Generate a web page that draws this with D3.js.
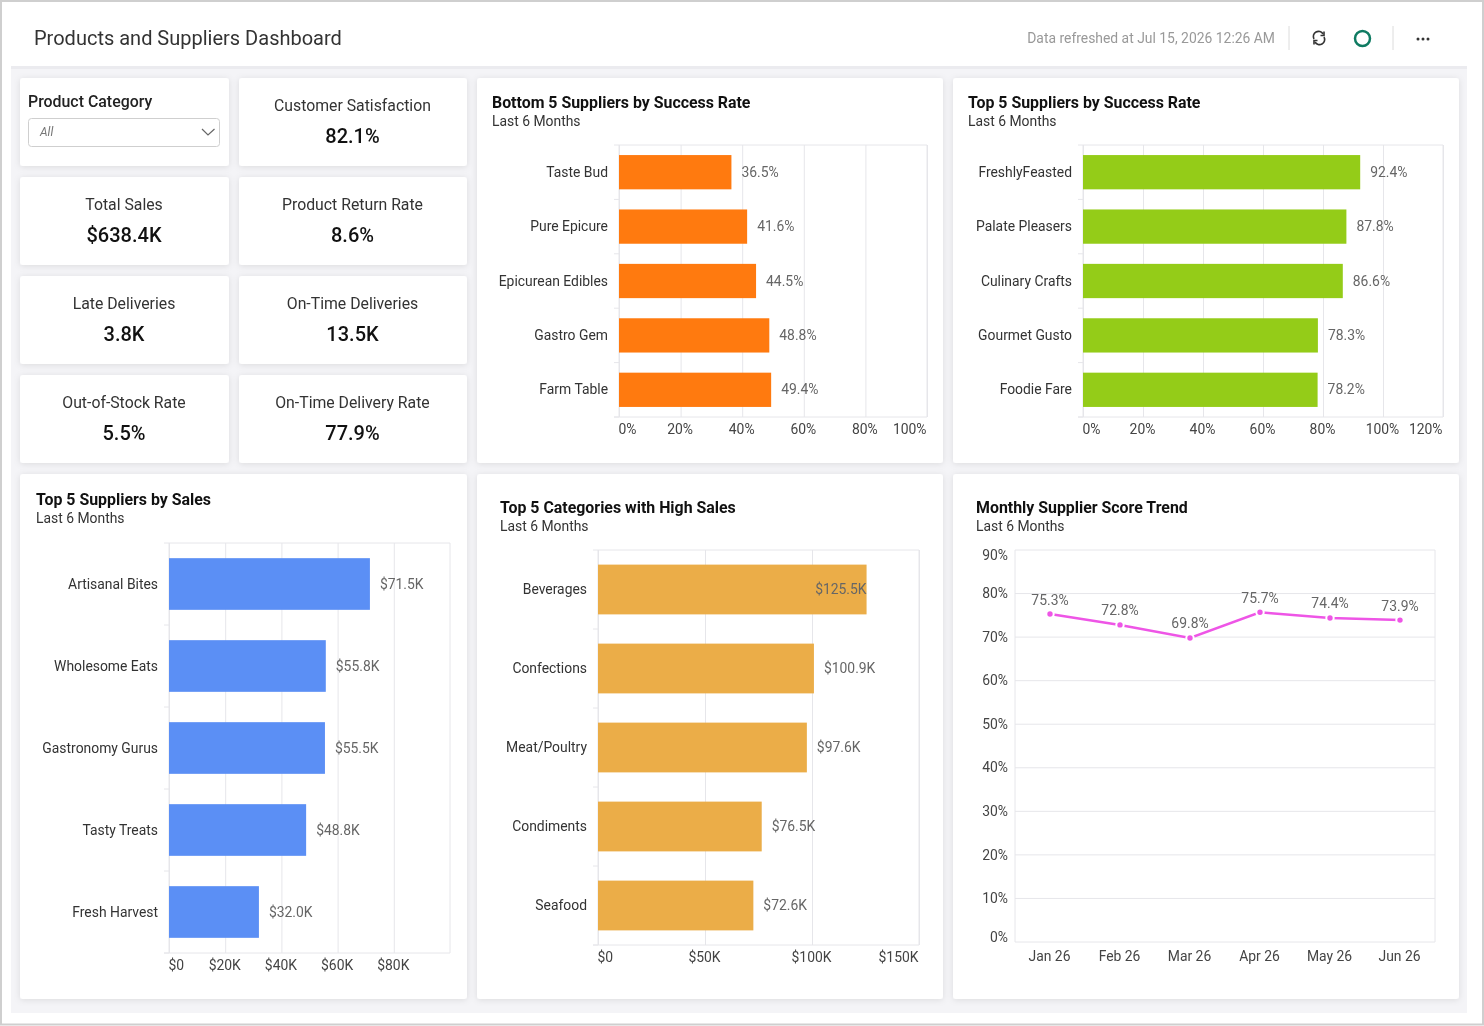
<!DOCTYPE html>
<html>
<head>
<meta charset="utf-8">
<title>Products and Suppliers Dashboard</title>
<script src="https://cdn.jsdelivr.net/npm/d3@7"></script>
<style>
  html, body { margin: 0; padding: 0; background: #fff; overflow: hidden; }
  svg { display: block; font-family: Roboto, "Noto Sans", sans-serif; filter: blur(0.35px); }
  .domain { display: none; }
</style>
</head>
<body>
<div id="chart"></div>
<script>
// KPI tiles
const kpiTitles = ["Customer Satisfaction", "Total Sales", "Product Return Rate", "Late Deliveries",
  "On-Time Deliveries", "Out-of-Stock Rate", "On-Time Delivery Rate"];
const kpiValues = ["82.1%", "$638.4K", "8.6%", "3.8K", "13.5K", "5.5%", "77.9%"];

// Bar charts
const bottomSuppliers = ["Taste Bud", "Pure Epicure", "Epicurean Edibles", "Gastro Gem", "Farm Table"];
const bottomRates = [36.5, 41.6, 44.5, 48.8, 49.4];
const topSuppliers = ["FreshlyFeasted", "Palate Pleasers", "Culinary Crafts", "Gourmet Gusto", "Foodie Fare"];
const topRates = [92.4, 87.8, 86.6, 78.3, 78.2];
const salesSuppliers = ["Artisanal Bites", "Wholesome Eats", "Gastronomy Gurus", "Tasty Treats", "Fresh Harvest"];
const salesValues = [71.5, 55.8, 55.5, 48.8, 32.0];
const categories = ["Beverages", "Confections", "Meat/Poultry", "Condiments", "Seafood"];
const categoryValues = [125.5, 100.9, 97.6, 76.5, 72.6];

// Line chart
const months = ["Jan 26", "Feb 26", "Mar 26", "Apr 26", "May 26", "Jun 26"];
const scores = [75.3, 72.8, 69.8, 75.7, 74.4, 73.9];

const GRID = "#e6e6ea";
const pct = d => d + "%";
const money = d => "$" + d.toFixed(1) + "K";
const moneyTick = d => d === 0 ? "$0" : "$" + d + "K";

const svg = d3.select("#chart").append("svg").attr("width", 1484).attr("height", 1026);

const shadow = svg.append("defs").append("filter").attr("id", "card-shadow")
  .attr("x", "-5%").attr("y", "-5%").attr("width", "110%").attr("height", "115%");
shadow.append("feDropShadow").attr("dx", 0).attr("dy", 1).attr("stdDeviation", 3)
  .attr("flood-color", "#000").attr("flood-opacity", 0.1);

// page frame and header
svg.append("rect").attr("width", 1484).attr("height", 1026).attr("fill", "#fff");
svg.append("rect").attr("x", 11).attr("y", 66).attr("width", 1456).attr("height", 947).attr("fill", "#f4f4f7");
svg.append("rect").attr("x", 11).attr("y", 66).attr("width", 1456).attr("height", 3).attr("fill", "#ebebef");
svg.append("rect").attr("x", 1).attr("y", 1).attr("width", 1482).attr("height", 1023.5)
  .attr("fill", "none").attr("stroke", "#cfcfcf").attr("stroke-width", 2);

svg.append("text").attr("x", 34).attr("y", 45).attr("font-size", 20).attr("fill", "#333")
  .text("Products and Suppliers Dashboard");
svg.append("text").attr("x", 1275).attr("y", 43).attr("text-anchor", "end").attr("font-size", 13.9).attr("fill", "#999")
  .text("Data refreshed at Jul 15, 2026 12:26 AM");

svg.selectAll(".sep").data([1289, 1393]).join("line").attr("class", "sep")
  .attr("x1", d => d).attr("x2", d => d).attr("y1", 26).attr("y2", 50).attr("stroke", "#dcdcdc");

// refresh icon
const refresh = svg.append("g").attr("transform", "translate(1319,38)")
  .attr("fill", "none").attr("stroke", "#333").attr("stroke-width", 1.6);
refresh.append("path").attr("d", "M-5,1 A5,5 0 0 1 4,-4");
refresh.append("path").attr("d", "M5,-1 A5,5 0 0 1 -4,4");
refresh.append("path").attr("d", "M5,-6.5 L5,-2.5 L1.5,-2.5");
refresh.append("path").attr("d", "M-5,6.5 L-5,2.5 L-1.5,2.5");

svg.append("circle").attr("cx", 1362.5).attr("cy", 38.5).attr("r", 7.5)
  .attr("fill", "none").attr("stroke", "#0f7b62").attr("stroke-width", 2.5);
svg.selectAll(".dot").data([-5, 0, 5]).join("circle").attr("class", "dot")
  .attr("cx", d => 1423 + d).attr("cy", 39).attr("r", 1.5).attr("fill", "#333");

function card(x, y, w, h) {
  svg.append("rect").attr("x", x).attr("y", y).attr("width", w).attr("height", h)
    .attr("rx", 3).attr("fill", "#fff").attr("filter", "url(#card-shadow)");
}

// filter tile
card(20, 78, 209, 88);
svg.append("text").attr("x", 28).attr("y", 107).attr("font-size", 15.9).attr("font-weight", 500).attr("fill", "#222")
  .text("Product Category");
svg.append("rect").attr("x", 28.5).attr("y", 118.5).attr("width", 191).attr("height", 28).attr("rx", 3)
  .attr("fill", "#fff").attr("stroke", "#cfcfcf");
svg.append("text").attr("x", 40).attr("y", 136).attr("font-size", 12).attr("font-style", "italic").attr("fill", "#777")
  .text("All");
svg.append("path").attr("d", "M202,129 L208,135 L214.5,129").attr("fill", "none").attr("stroke", "#666").attr("stroke-width", 1.2);

// KPI tiles
const kpiCols = [{ x: 20, w: 209 }, { x: 239, w: 228 }];
const kpiRows = [78, 177, 276, 375];
const kpiSlots = [[1, 0], [0, 1], [1, 1], [0, 2], [1, 2], [0, 3], [1, 3]];
kpiTitles.forEach((title, i) => {
  const col = kpiCols[kpiSlots[i][0]], top = kpiRows[kpiSlots[i][1]];
  card(col.x, top, col.w, 88);
  svg.append("text").attr("x", col.x + col.w / 2 - 0.5).attr("y", top + 32.5).attr("text-anchor", "middle")
    .attr("font-size", 15.8).attr("fill", "#333").text(title);
  svg.append("text").attr("x", col.x + col.w / 2 - 0.5).attr("y", top + 64.5).attr("text-anchor", "middle")
    .attr("font-size", 20).attr("font-weight", 500).attr("fill", "#111").text(kpiValues[i]);
});

function heading(x, y, title) {
  svg.append("text").attr("x", x).attr("y", y + 1).attr("font-size", 15.9).attr("font-weight", 700).attr("fill", "#111").text(title);
  svg.append("text").attr("x", x).attr("y", y + 19).attr("font-size", 13.9).attr("fill", "#333").text("Last 6 Months");
}

function barChart(o) {
  const x = d3.scaleLinear().domain([0, o.max]).range([o.left, o.right]);
  const y = d3.scaleBand().domain(o.names).range([o.top, o.bottom]).paddingInner(o.gap).paddingOuter(o.gap / 2);
  const g = svg.append("g");

  // vertical grid and x labels
  const xAxis = g.append("g").attr("transform", `translate(0,${o.bottom})`)
    .call(d3.axisBottom(x).tickValues(o.ticks).tickFormat(o.tickFormat).tickSize(-(o.bottom - o.top)).tickPadding(6));
  xAxis.selectAll("line").attr("stroke", GRID);
  xAxis.selectAll("text").attr("font-family", "Roboto").attr("font-size", 13.9).attr("fill", "#444")
    .attr("y", 17).attr("dy", 0)
    .attr("text-anchor", (d, i) => i === 0 ? "start" : (d === o.max ? "end" : "middle"))
    .attr("x", (d, i) => i === 0 ? -1 : -1);

  // frame of the plot
  g.append("path").attr("fill", "none").attr("stroke", GRID)
    .attr("d", `M${o.left},${o.top} H${o.right} V${o.bottom} H${o.left - 5}`);

  // ticks between the bands
  const step = y.step();
  g.selectAll(".band-tick").data(d3.range(o.names.length + 1)).join("line").attr("class", "band-tick")
    .attr("x1", o.left - 5).attr("x2", o.left)
    .attr("y1", i => o.top + i * step).attr("y2", i => o.top + i * step).attr("stroke", GRID);
  g.append("line").attr("x1", o.left).attr("x2", o.left).attr("y1", o.top).attr("y2", o.bottom).attr("stroke", GRID);

  g.selectAll(".bar").data(o.values).join("rect").attr("class", "bar")
    .attr("x", x(0)).attr("y", (d, i) => y(o.names[i]))
    .attr("width", d => x(d) - x(0)).attr("height", y.bandwidth()).attr("fill", o.color);

  g.selectAll(".name").data(o.names).join("text").attr("class", "name")
    .attr("x", o.left - 11).attr("y", d => y(d) + y.bandwidth() / 2 + 4.5)
    .attr("text-anchor", "end").attr("font-size", 13.9).attr("fill", "#333").text(d => d);

  g.selectAll(".value").data(o.values).join("text").attr("class", "value")
    .attr("x", d => o.insideFrom && d >= o.insideFrom ? x(d) : x(d) + 10)
    .attr("y", (d, i) => y(o.names[i]) + y.bandwidth() / 2 + 4.5)
    .attr("text-anchor", d => o.insideFrom && d >= o.insideFrom ? "end" : "start")
    .attr("font-size", 13.9).attr("fill", "#666").text(o.format);
}

// Bottom 5 suppliers
card(477, 78, 466, 385);
heading(492, 107, "Bottom 5 Suppliers by Success Rate");
barChart({ names: bottomSuppliers, values: bottomRates, color: "#ff7a0f", max: 100, ticks: [0, 20, 40, 60, 80, 100],
  left: 619, right: 927, top: 145, bottom: 417, gap: 0.37, format: d => d.toFixed(1) + "%", tickFormat: pct });

// Top 5 suppliers
card(953, 78, 506, 385);
heading(968, 107, "Top 5 Suppliers by Success Rate");
barChart({ names: topSuppliers, values: topRates, color: "#94cc18", max: 120, ticks: [0, 20, 40, 60, 80, 100, 120],
  left: 1083, right: 1443, top: 145, bottom: 417, gap: 0.37, format: d => d.toFixed(1) + "%", tickFormat: pct });

// Top 5 by sales
card(20, 474, 447, 525);
heading(36, 504, "Top 5 Suppliers by Sales");
barChart({ names: salesSuppliers, values: salesValues, color: "#5b8ff5", max: 100, ticks: [0, 20, 40, 60, 80],
  left: 169, right: 450, top: 543, bottom: 953, gap: 0.37, format: money, tickFormat: moneyTick });

// Top 5 categories
card(477, 474, 466, 525);
heading(500, 512, "Top 5 Categories with High Sales");
barChart({ names: categories, values: categoryValues, color: "#ebad48", max: 150, ticks: [0, 50, 100, 150],
  left: 598, right: 919, top: 550, bottom: 945, gap: 0.37, format: money, tickFormat: moneyTick, insideFrom: 120 });

// Monthly score trend
card(953, 474, 506, 525);
heading(976, 512, "Monthly Supplier Score Trend");

const lineX = d3.scalePoint().domain(months).range([1015, 1435]).padding(0.5);
const lineY = d3.scaleLinear().domain([0, 90]).range([942, 550]);
const trend = svg.append("g");

const yAxis = trend.append("g").attr("transform", "translate(1015,0)")
  .call(d3.axisLeft(lineY).tickValues(d3.range(0, 100, 10)).tickFormat(pct).tickSize(0).tickPadding(7));
yAxis.selectAll("text").attr("font-family", "Roboto").attr("font-size", 13.9).attr("fill", "#444")
  .attr("dy", d => d === 90 ? "0.7em" : d === 0 ? "-0.05em" : "0.3em");

trend.selectAll(".hgrid").data(d3.range(0, 100, 10)).join("line").attr("class", "hgrid")
  .attr("x1", 1015).attr("x2", 1435).attr("y1", d => lineY(d)).attr("y2", d => lineY(d)).attr("stroke", GRID);
trend.selectAll(".vgrid").data([1015, 1435]).join("line").attr("class", "vgrid")
  .attr("x1", d => d).attr("x2", d => d).attr("y1", 550).attr("y2", 942).attr("stroke", GRID);

const xAxis = trend.append("g").attr("transform", "translate(0,942)")
  .call(d3.axisBottom(lineX).tickSize(0).tickPadding(9));
xAxis.selectAll("text").attr("font-family", "Roboto").attr("font-size", 13.9).attr("fill", "#444").attr("x", -1);

const points = months.map((m, i) => ({ month: m, score: scores[i] }));
trend.append("path").datum(points).attr("fill", "none").attr("stroke", "#ee55e6").attr("stroke-width", 2.5)
  .attr("d", d3.line().x(d => lineX(d.month)).y(d => lineY(d.score)));
trend.selectAll(".pt").data(points).join("circle").attr("class", "pt")
  .attr("cx", d => lineX(d.month)).attr("cy", d => lineY(d.score)).attr("r", 3.7)
  .attr("fill", "#ee55e6").attr("stroke", "#fff").attr("stroke-width", 2);
trend.selectAll(".pt-label").data(points).join("text").attr("class", "pt-label")
  .attr("x", d => lineX(d.month)).attr("y", d => lineY(d.score) - 9.5).attr("text-anchor", "middle")
  .attr("font-size", 13.9).attr("fill", "#666").text(d => d.score.toFixed(1) + "%");
</script>
</body>
</html>
